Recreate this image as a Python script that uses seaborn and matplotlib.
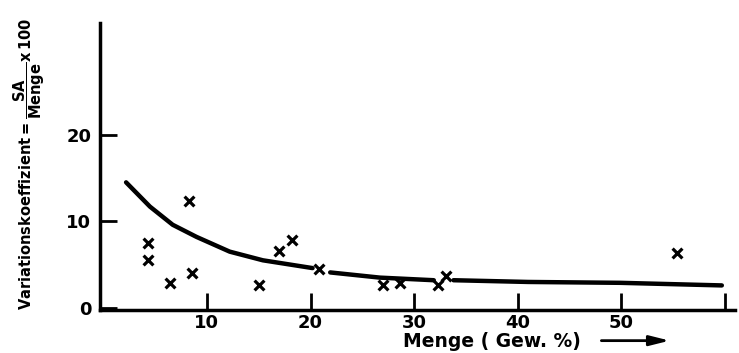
import matplotlib
matplotlib.use("Agg")
import matplotlib.pyplot as plt
import seaborn as sns
import pandas as pd

# measured points (Menge in Gew.%, Variationskoeffizient)
menge = [4.3, 4.3, 6.4, 8.3, 8.6, 15.0, 17.0, 18.2, 20.8, 27.0, 28.6, 32.3, 33.1, 55.4]
vk = [7.5, 5.5, 2.9, 12.4, 4.0, 2.7, 6.6, 7.9, 4.5, 2.7, 2.9, 2.7, 3.7, 6.4]

# hand drawn trend curve (gaps around markers)
curve_x = [2.2, 4.5, 6.7, 9.0, 12.2, 15.4, 20.2]
curve_y = [14.5, 11.7, 9.6, 8.2, 6.5, 5.5, 4.6]
curve2_x = [21.9, 26.7, 31.9]
curve2_y = [4.1, 3.5, 3.2]
curve3_x = [33.8, 41.0, 49.9, 59.7]
curve3_y = [3.2, 3.0, 2.9, 2.6]

xticks = [10, 20, 30, 40, 50, 60]
xticklabels = ["10", "20", "30", "40", "50", ""]
yticks = [0, 10, 20]

sns.set_style("ticks")
plt.rcParams['font.family'] = ['DejaVu Sans']
plt.rcParams['font.weight'] = 'bold'
plt.rcParams['text.color'] = 'black'
plt.rcParams['xtick.color'] = 'black'
plt.rcParams['ytick.color'] = 'black'
plt.rcParams['axes.edgecolor'] = 'black'

fig = plt.figure(figsize=(7.39, 3.53), dpi=100)
ax = fig.add_axes([0.135, 0.122, 0.86, 0.813])

df = pd.DataFrame({"Menge": menge, "VK": vk})
sns.scatterplot(data=df, x="Menge", y="VK", marker="x", color="black",
                s=50, linewidth=2.3, ax=ax, legend=False)
for cx, cy in [(curve_x, curve_y), (curve2_x, curve2_y), (curve3_x, curve3_y)]:
    sns.lineplot(x=cx, y=cy, color="black", linewidth=3.2, ax=ax,
                 estimator=None, sort=True)

ax.set_xlim(-0.34, 61)
ax.set_ylim(-0.23, 32.9)
ax.set_xticks(xticks)
ax.set_xticklabels(xticklabels)
ax.set_yticks(yticks)
ax.tick_params(direction="in", length=12, width=2, labelsize=13, pad=3)
ax.tick_params(axis="y", pad=6)
for s in ["top", "right"]:
    ax.spines[s].set_visible(False)
for s in ["left", "bottom"]:
    ax.spines[s].set_linewidth(2.5)

ax.set_xlabel("")
ax.set_ylabel("")
fig.text(0.545, 0.005, "Menge ( Gew. %)", fontsize=13.5, fontweight="bold",
         ha="left", va="bottom")
ax.annotate("", xy=(0.91, 0.035), xycoords="figure fraction",
            xytext=(0.81, 0.035), textcoords="figure fraction",
            arrowprops=dict(arrowstyle="-|>,head_length=1.2,head_width=0.3",
                            color="black", lw=2))
fig.text(0.015, 0.535,
         r"Variationskoeffizient$=\dfrac{\mathbf{SA}}{\mathbf{Menge}}\mathbf{x\,100}$",
         rotation=90, fontsize=10.5, fontweight="bold", ha="left", va="center")

fig.savefig("out.png", dpi=100)
